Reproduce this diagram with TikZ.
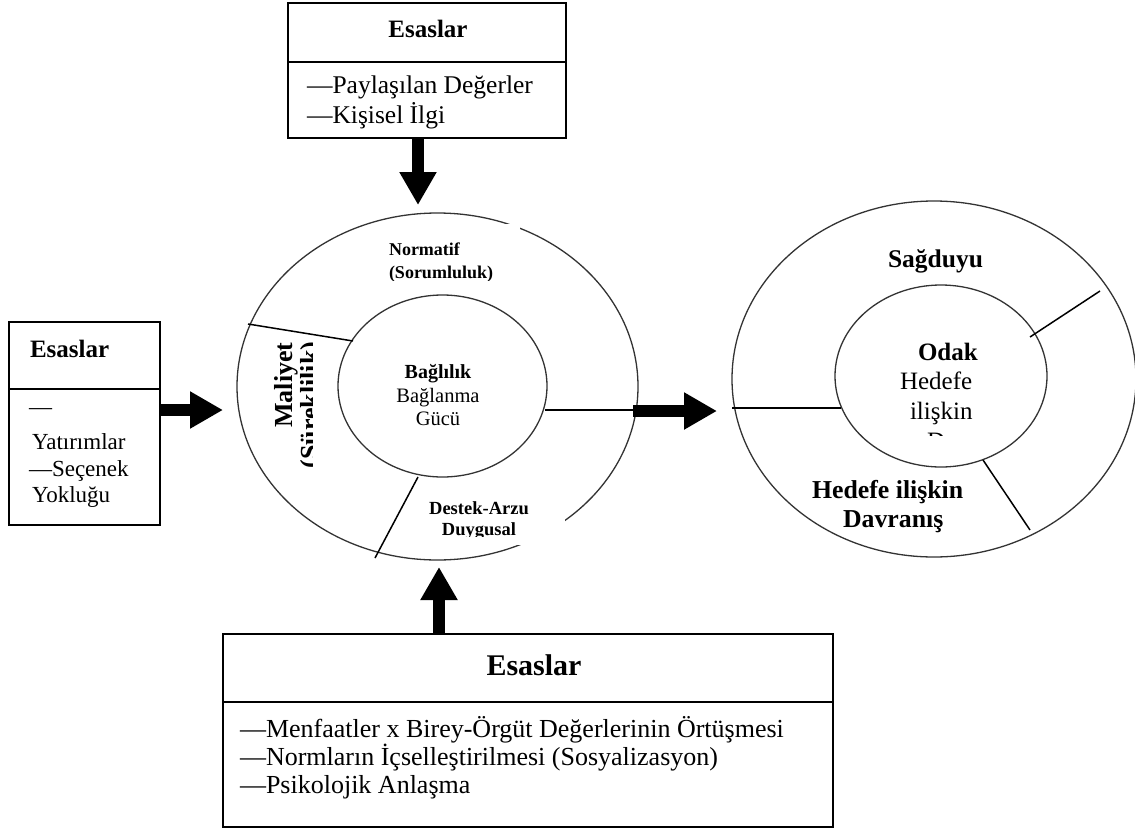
\documentclass[tikz,border=0pt]{standalone}
\usepackage{fontspec}
\setmainfont{Liberation Serif}
\usetikzlibrary{arrows.meta,shapes.geometric}
\newcommand{\fsz}[1]{\fontsize{#1}{#1}\selectfont}
\begin{document}
\begin{tikzpicture}[x=1pt,y=-1pt,
  boxst/.style={draw,line width=1.5pt,inner sep=0pt,outer sep=0pt},
  ring/.style={draw=black!80,line width=1.3pt,ellipse,inner sep=0pt,outer sep=0pt},
  divline/.style={line width=1.5pt},
  fatarrow/.style={line width=12pt,-{Triangle[length=33pt 0,width=35pt 0]}},
  txt/.style={inner sep=0pt,outer sep=0pt},
  mask/.style={fill=white,draw=none}]
\clip (0,0) rectangle (1135,830);
\fill[white] (0,0) rectangle (1135,830);

% ---------- boxes ----------
\node[boxst,minimum width=278pt,minimum height=135pt] (topbox) at (427,70.5) {};
\coordinate (td1) at (288,62); \coordinate (td2) at (566,62);
\draw[line width=1.5pt] (td1) -- (td2);

\node[boxst,minimum width=151pt,minimum height=203pt] (leftbox) at (84.5,423.5) {};
\coordinate (ld1) at (9,389); \coordinate (ld2) at (160,389);
\draw[line width=1.5pt] (ld1) -- (ld2);

\node[boxst,minimum width=610pt,minimum height=193pt] (botbox) at (528,730.5) {};
\coordinate (bd1) at (223,702); \coordinate (bd2) at (833,702);
\draw[line width=1.5pt] (bd1) -- (bd2);

% ---------- rings ----------
\node[ring,minimum width=401pt,minimum height=347pt] (LO) at (437.5,386.5) {};
\node[ring,minimum width=209pt,minimum height=182pt] (LI) at (442.5,386) {};
\node[ring,minimum width=404pt,minimum height=356pt] (RO) at (934,379) {};
\node[ring,minimum width=212pt,minimum height=182pt] (RI) at (941,376) {};

% gaps in the left outer ring (text frames)
\fill[mask] (385,224) rectangle (520,282);
\fill[mask] (420,490) rectangle (565,545);

% ---------- dividers ----------
\coordinate (l1a) at (248,324); \coordinate (l1b) at (353,341);
\coordinate (l2a) at (545,410); \coordinate (l2b) at (635,410);
\coordinate (l3a) at (418,477); \coordinate (l3b) at (375,558);
\draw[divline] (l1a) -- (l1b);
\draw[divline] (l2a) -- (l2b);
\draw[divline] (l3a) -- (l3b);
\coordinate (r1a) at (732,408); \coordinate (r1b) at (841,408);
\coordinate (r2a) at (1030,337); \coordinate (r2b) at (1100,291);
\coordinate (r3a) at (983,460); \coordinate (r3b) at (1030,530);
\draw[divline] (r1a) -- (r1b);
\draw[divline] (r2a) -- (r2b);
\draw[divline] (r3a) -- (r3b);

% ---------- arrows ----------
\coordinate (a1s) at (418,138); \coordinate (a1e) at (418,205);
\coordinate (a2s) at (160,410); \coordinate (a2e) at (223,410);
\coordinate (a3s) at (633,411); \coordinate (a3e) at (717,411);
\coordinate (a4s) at (439,634); \coordinate (a4e) at (439,567);
\draw[fatarrow] (a1s) -- (a1e);
\draw[fatarrow] (a2s) -- (a2e);
\draw[fatarrow] (a3s) -- (a3e);
\draw[fatarrow] (a4s) -- (a4e);

% ---------- top box text ----------
\node[txt,anchor=base,font=\fsz{25}\bfseries] (t1) at (428,37) {Esaslar};
\node[txt,anchor=base west,font=\fsz{25.5}] (t2) at (307,93) {—Paylaşılan Değerler};
\node[txt,anchor=base west,font=\fsz{25.5}] (t3) at (307,123) {—Kişisel İlgi};

% ---------- left box text ----------
\node[txt,anchor=base west,font=\fsz{25}\bfseries] (lb1) at (30,357) {Esaslar};
\node[txt,anchor=base west,font=\fsz{23}] (lb2) at (29,414) {—};
\node[txt,anchor=base west,font=\fsz{23}] (lb3) at (32,449) {Yatırımlar};
\node[txt,anchor=base west,font=\fsz{23}] (lb4) at (29,476) {—Seçenek};
\node[txt,anchor=base west,font=\fsz{23}] (lb5) at (32,502) {Yokluğu};

% ---------- bottom box text ----------
\node[txt,anchor=base,font=\fsz{30}\bfseries] (bb1) at (534,675) {Esaslar};
\node[txt,anchor=base west,font=\fsz{26}] (bb2) at (240,737) {—Menfaatler x Birey-Örgüt Değerlerinin Örtüşmesi};
\node[txt,anchor=base west,font=\fsz{26}] (bb3) at (240,765) {—Normların İçselleştirilmesi (Sosyalizasyon)};
\node[txt,anchor=base west,font=\fsz{26}] (bb4) at (240,793) {—Psikolojik Anlaşma};

% ---------- left ring text ----------
\begin{scope}
\clip (385,224) rectangle (520,280);
\node[txt,anchor=base west,font=\fsz{18}\bfseries] (n1) at (389,255) {Normatif};
\node[txt,anchor=base west,font=\fsz{18}\bfseries] (n2) at (389,278) {(Sorumluluk)};
\end{scope}
\begin{scope}
\clip (250,320) rectangle (312,490);
\node[txt,anchor=base,rotate=90,font=\fsz{26}\bfseries] (m1) at (292,385) {Maliyet};
\node[txt,anchor=base,rotate=90,font=\fsz{26}\bfseries] (m2) at (318,405) {(Süreklilik)};
\end{scope}
\node[txt,anchor=base,font=\fsz{20}\bfseries] (c1) at (438,378) {Bağlılık};
\node[txt,anchor=base,font=\fsz{20.5}] (c2) at (438,402) {Bağlanma};
\node[txt,anchor=base,font=\fsz{20.5}] (c3) at (438,425) {Gücü};
\begin{scope}
\clip (420,490) rectangle (565,536);
\node[txt,anchor=base,font=\fsz{18.5}\bfseries] (d1) at (479,514) {Destek-Arzu};
\node[txt,anchor=base,font=\fsz{18.5}\bfseries] (d2) at (479,535) {Duygusal};
\end{scope}

% ---------- right ring text ----------
\node[txt,anchor=base west,font=\fsz{25.5}\bfseries] (s1) at (888,267) {Sağduyu};
\node[txt,anchor=base west,font=\fsz{25}\bfseries] (o1) at (918,360) {Odak};
\begin{scope}
\clip (880,330) rectangle (1010,435);
\node[txt,anchor=base west,font=\fsz{25}] (o2) at (900,389) {Hedefe};
\node[txt,anchor=base west,font=\fsz{25}] (o3) at (910,419) {ilişkin};
\node[txt,anchor=base west,font=\fsz{25}] (o4) at (927,449) {Davranış};
\end{scope}
\node[txt,anchor=base west,font=\fsz{25.8}\bfseries] (h1) at (812,498) {Hedefe ilişkin};
\node[txt,anchor=base west,font=\fsz{25.8}\bfseries] (h2) at (843,527) {Davranış};
\end{tikzpicture}
\end{document}
